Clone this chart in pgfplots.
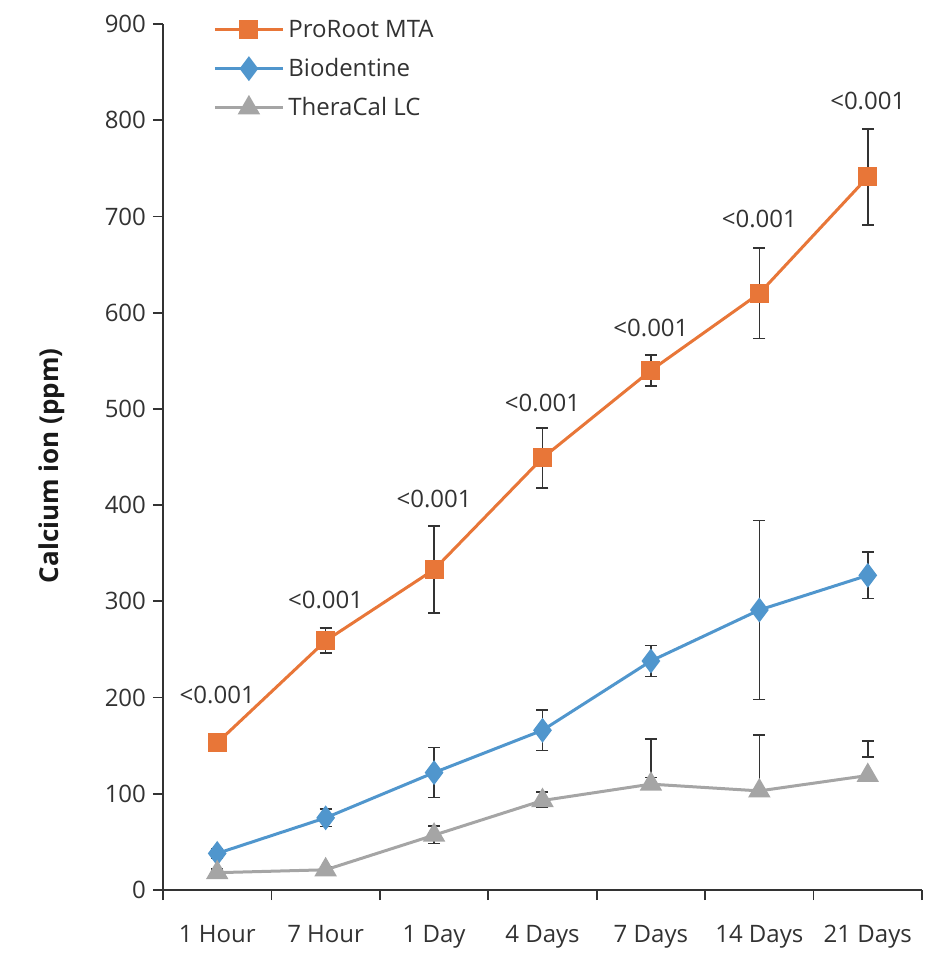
\documentclass[border=0pt]{standalone}
\usepackage{pgfplots}
\pgfplotsset{compat=1.18}
\usepackage{fontspec}
\setmainfont{Open Sans}
\definecolor{cOrange}{RGB}{232,118,56}
\definecolor{cBlue}{RGB}{80,150,205}
\definecolor{cGray}{RGB}{165,165,165}
\definecolor{cText}{RGB}{50,50,50}
\begin{document}
\begin{tikzpicture}
\begin{axis}[
  scale only axis,
  width=379.5pt, height=433pt,
  xmin=0, xmax=7, ymin=0, ymax=900,
  axis lines=left,
  axis line style={-, line width=0.9pt, color=black!80},
  tick style={line width=0.9pt, color=black!80},
  tick align=outside,
  major tick length=5pt,
  xtick={0,1,...,7},
  xticklabels={1 Hour,7 Hour,1 Day,4 Days,7 Days,14 Days,21 Days},
  x tick label as interval,
  ytick={0,100,...,900},
  font=\fontsize{12}{14}\selectfont,
  tick label style={font=\fontsize{12}{14}\selectfont, text=cText},
  /pgf/number format/assume math mode=true,
  x tick label style={yshift=-9pt},
  ylabel={\fontsize{13}{15}\selectfont\bfseries Calcium ion (ppm)},
  ylabel style={at={(axis description cs:-0.146,0.49)}, anchor=center, text=black!90},
  legend style={at={(axis description cs:0.058,1.0145)}, anchor=north west, draw=none, fill=none,
    font=\fontsize{12}{14}\selectfont, text=cText, row sep=5pt, cells={anchor=west}},
  legend image code/.code={\draw[mark repeat=2,mark phase=2] plot coordinates {(0pt,0pt) (17pt,0pt) (34pt,0pt)};},
  clip=false,
  error bars/error bar style={line width=0.8pt, black!80, solid},
  error bars/error mark options={rotate=90, mark size=3pt, line width=0.8pt, black!80},
]
% ProRoot MTA
\addplot[color=cOrange, line width=1.5pt, mark=square*, mark size=4pt, mark options={fill=cOrange, draw=cOrange},
  error bars/.cd, y dir=both, y explicit]
  coordinates {
  (0.5,153) +- (0,3)
  (1.5,259) +- (0,13)
  (2.5,333) +- (0,45)
  (3.5,449) +- (0,31)
  (4.5,540) +- (0,16)
  (5.5,620) +- (0,47)
  (6.5,741) +- (0,50)
  };
\addlegendentry{ProRoot MTA}
% Biodentine
\addplot[color=cBlue, line width=1.5pt, mark=diamond*, mark size=5pt, mark options={fill=cBlue, draw=cBlue},
  error bars/.cd, y dir=both, y explicit]
  coordinates {
  (0.5,38) +- (0,5)
  (1.5,75) +- (0,9)
  (2.5,122) +- (0,26)
  (3.5,166) +- (0,21)
  (4.5,238) +- (0,16)
  (5.5,291) +- (0,93)
  (6.5,327) +- (0,24)
  };
\addlegendentry{Biodentine}
% TheraCal LC error bars (offset as in the figure)
\addplot[draw=none, mark=none, forget plot,
  error bars/.cd, y dir=both, y explicit]
  coordinates {
  (0.5,18) +- (0,4)
  (1.5,21) +- (0,3)
  (2.5,57.5) +- (0,9)
  (3.5,94) +- (0,8)
  (4.5,137) +- (0,20)
  (5.5,132) +- (0,29)
  (6.5,146.5) +- (0,8.5)
  };
% TheraCal LC
\addplot[color=cGray, line width=1.5pt, mark=triangle*, mark size=5pt, mark options={fill=cGray, draw=cGray}]
  coordinates {
  (0.5,18)
  (1.5,21)
  (2.5,57)
  (3.5,93)
  (4.5,110)
  (5.5,103)
  (6.5,119)
  };
\addlegendentry{TheraCal LC}
% p-values
\node[text=cText, font=\fontsize{12}{14}\selectfont] at (axis cs:0.5,203) {<0.001};
\node[text=cText, font=\fontsize{12}{14}\selectfont] at (axis cs:1.5,301) {<0.001};
\node[text=cText, font=\fontsize{12}{14}\selectfont] at (axis cs:2.5,406) {<0.001};
\node[text=cText, font=\fontsize{12}{14}\selectfont] at (axis cs:3.5,506) {<0.001};
\node[text=cText, font=\fontsize{12}{14}\selectfont] at (axis cs:4.5,584) {<0.001};
\node[text=cText, font=\fontsize{12}{14}\selectfont] at (axis cs:5.5,697) {<0.001};
\node[text=cText, font=\fontsize{12}{14}\selectfont] at (axis cs:6.5,820) {<0.001};
\end{axis}
\path[use as bounding box] ([shift={(-81.5pt,-34pt)}]current axis.south west) rectangle ([shift={(386.5pt,445pt)}]current axis.south west);
\end{tikzpicture}
\end{document}
